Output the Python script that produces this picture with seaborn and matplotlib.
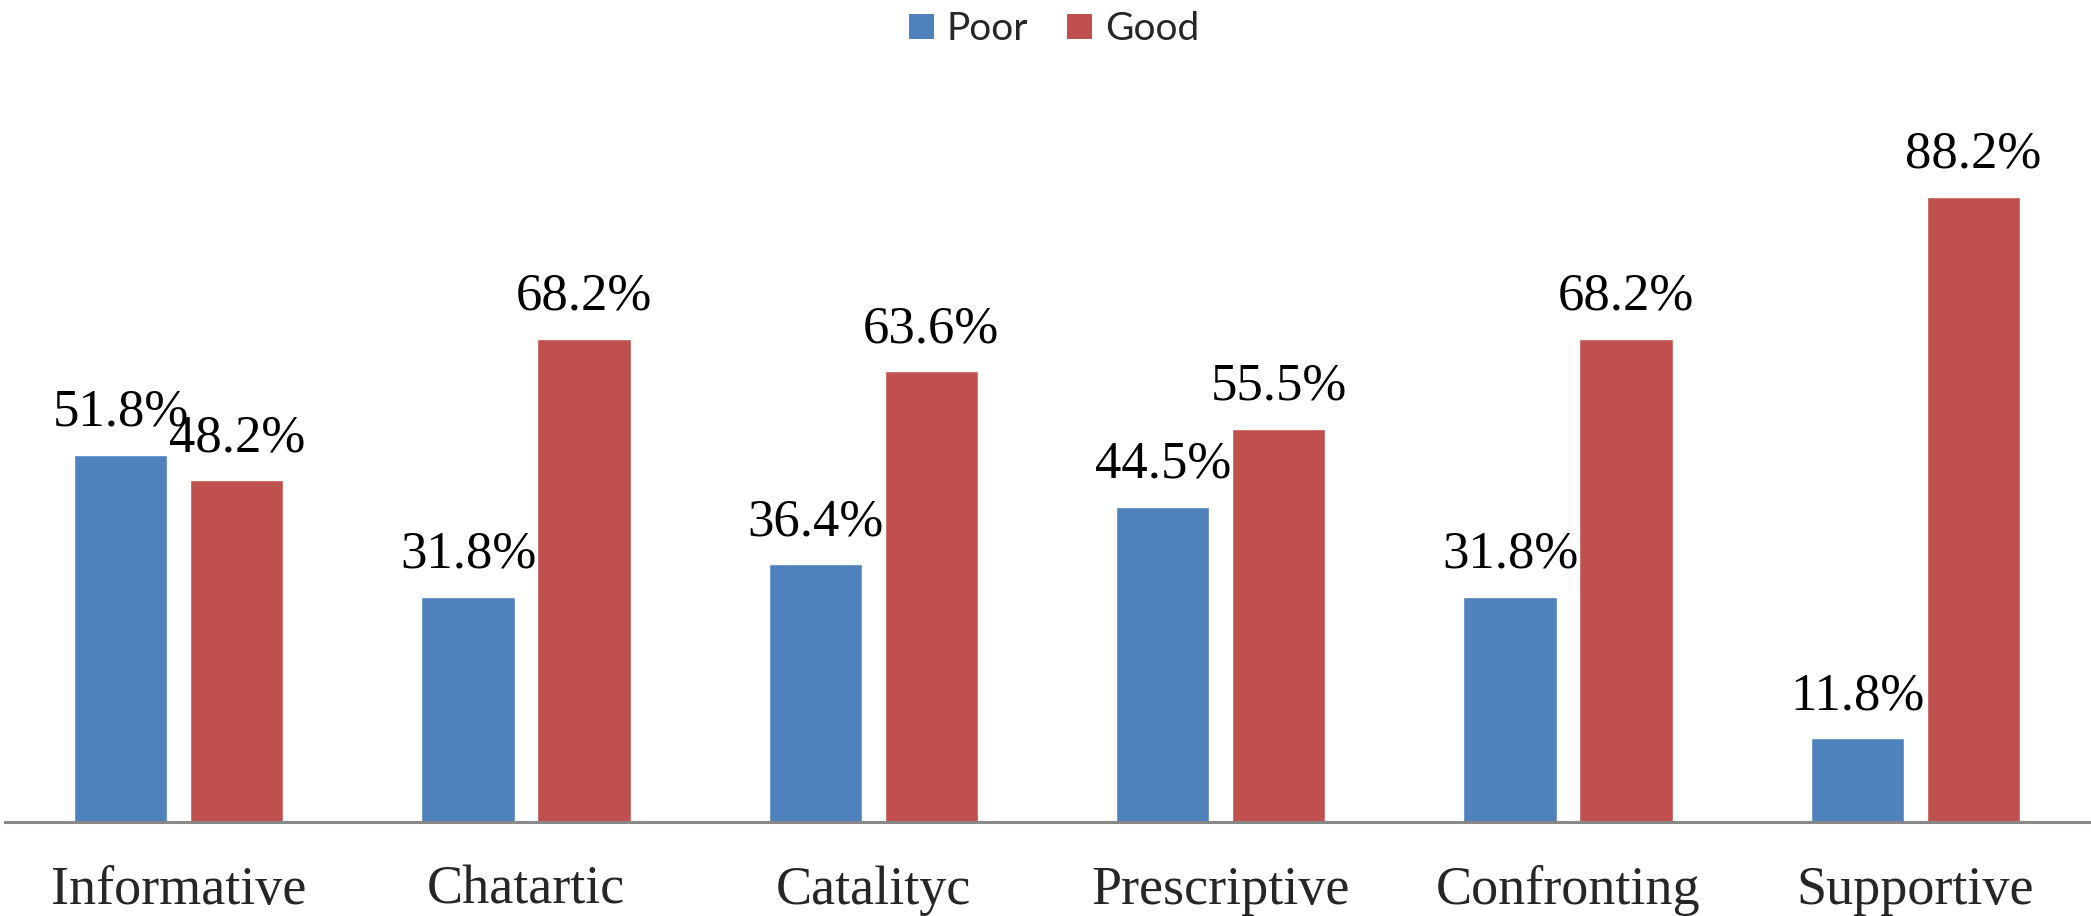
import matplotlib
matplotlib.use("Agg")
import matplotlib.pyplot as plt
import seaborn as sns
import pandas as pd
from matplotlib.patches import Patch

categories = ["Informative", "Chatartic", "Catalityc", "Prescriptive", "Confronting", "Supportive"]
poor = [51.8, 31.8, 36.4, 44.5, 31.8, 11.8]
good = [48.2, 68.2, 63.6, 55.5, 68.2, 88.2]
series = ["Poor", "Good"]
colors = ["#4F81BD", "#C0504D"]

df = pd.DataFrame({
    "category": categories * 2,
    "value": poor + good,
    "group": ["Poor"] * len(categories) + ["Good"] * len(categories),
})

sns.set_theme(style="white")
plt.rcParams["font.family"] = ["Liberation Serif", "DejaVu Serif"]

fig = plt.figure(figsize=(20.91, 9.16), dpi=100)
ax = fig.add_axes([5 / 2091, 1 - 822 / 916, 2084 / 2091, 822 / 916])

sns.barplot(data=df, x="category", y="value", hue="group", order=categories,
            hue_order=series, palette=colors, width=0.668, gap=0.198,
            saturation=1, ax=ax, legend=False, errorbar=None)

for cont in ax.containers:
    ax.bar_label(cont, fmt="%.1f%%", padding=13, fontsize=38,
                 family="Liberation Serif", color="black")

ax.set_xlim(-0.5, len(categories) - 0.5)
ax.set_ylim(0, 116)
ax.set_xlabel("")
ax.set_ylabel("")
ax.set_yticks([])
ax.tick_params(axis="x", length=0, pad=31, labelsize=39)
for lbl in ax.get_xticklabels():
    lbl.set_family("Liberation Serif")
for s in ["top", "right", "left"]:
    ax.spines[s].set_visible(False)
ax.spines["bottom"].set_color("#888888")
ax.spines["bottom"].set_linewidth(2.2)

handles = [Patch(facecolor=c, edgecolor="none", label=s) for c, s in zip(colors, series)]
fig.legend(handles=handles, loc="upper center", bbox_to_anchor=(0.504, 1.026), ncol=2,
           frameon=False, prop={"family": "Lato", "size": 28},
           handlelength=0.64, handleheight=0.64, handletextpad=0.33, columnspacing=1.0)

fig.savefig("out.png", dpi=100)
